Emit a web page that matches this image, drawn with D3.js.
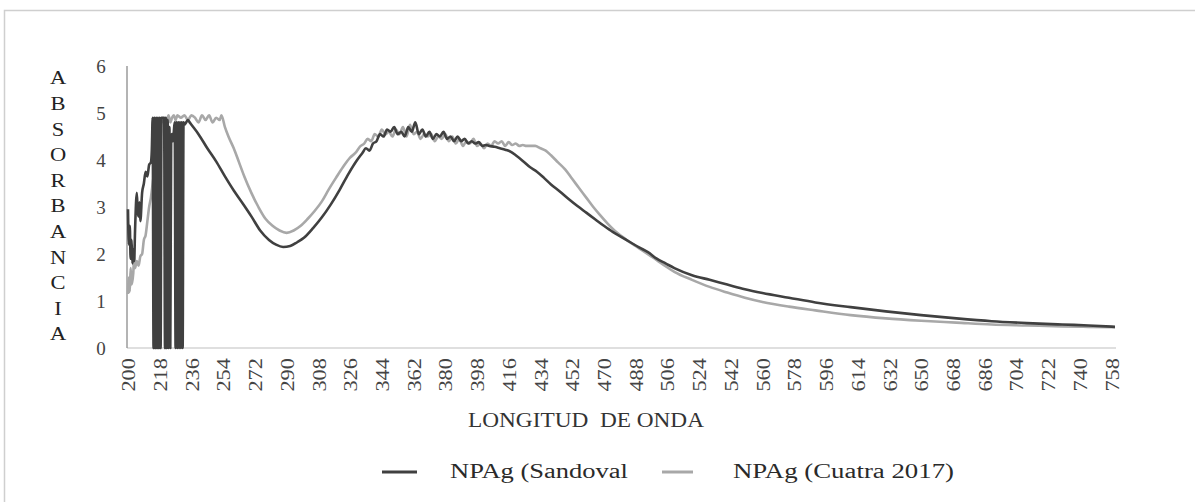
<!DOCTYPE html>
<html>
<head>
<meta charset="utf-8">
<script src="https://cdn.jsdelivr.net/npm/d3@7"></script>
<style>
  html, body { margin: 0; padding: 0; background: #fff; }
  svg { display: block; }
  text { font-family: "Liberation Serif", "Times New Roman", serif; }
</style>
</head>
<body>
<svg id="chart" width="1195" height="502"></svg>
<script>
// ---------- DATA ----------
const xTickLabels = [200,218,236,254,272,290,308,326,344,362,380,398,416,434,452,470,488,506,524,542,560,578,596,614,632,650,668,686,704,722,740,758];
const yTickLabels = [0,1,2,3,4,5,6];
const yTitle = "ABSORBANCIA";
const xTitle = "LONGITUD  DE ONDA";
const seriesNames = ["NPAg (Sandoval", "NPAg (Cuatra 2017)"];

const sandovalWl = [200,200.5,201,201.5,202,202.5,203,203.5,204,205,205.5,206,206.5,207,208,209,210,211,212,213,213.5,
  214,214.5,215,215.5,216,216.5,217,217.5,218,218.5,219,220.5,221,221.5,222,222.5,223,223.5,224,224.5,225,225.5,226,226.5,
  227,227.5,228,228.5,229,229.5,230,230.5,231,231.5,232,233,234,235,236,
  240,245,250,255,260,265,270,275,280,284,288,292,296,300,305,310,315,320,325,330,
  333,335,337,339,341,343,345,347,349,351,353,355,357,359,361,363,365,367,369,371,373,375,377,379,381,383,385,387,389,391,393,395,397,399,401,403,405,408,411,414,417,420,424,428,432,436,440,445,450,455,460,465,470,475,480,485,490,495,500,505,510,520,530,540,550,560,575,590,610,630,650,670,690,710,730,745,760];
const sandovalAbs = [2.95,2.2,2.6,1.9,2.3,1.8,2.1,1.85,2.5,3.3,2.9,2.8,3.1,2.7,3.3,3.5,3.75,3.65,3.9,3.95,4.2,
  4.9,0,4.9,0,4.9,0,4.9,0,4.9,0,4.9,4.9,0,4.9,0,4.85,0,4.7,0,4.5,4.55,4.4,4.6,4.8,
  0,4.8,0,4.8,0,4.8,0,4.8,0,4.8,4.75,4.8,4.85,4.8,4.75,
  4.55,4.25,3.97,3.65,3.35,3.08,2.8,2.5,2.3,2.2,2.15,2.17,2.25,2.35,2.55,2.78,3.05,3.36,3.7,4.0,
  4.15,4.25,4.2,4.35,4.4,4.55,4.5,4.65,4.6,4.7,4.55,4.6,4.5,4.7,4.6,4.8,4.55,4.65,4.5,4.6,4.45,4.55,4.5,4.6,4.45,4.5,4.4,4.5,4.4,4.45,4.35,4.4,4.35,4.38,4.3,4.32,4.3,4.28,4.25,4.22,4.18,4.1,3.98,3.85,3.75,3.62,3.48,3.33,3.17,3.02,2.88,2.74,2.6,2.47,2.36,2.25,2.14,2.04,1.9,1.8,1.7,1.55,1.45,1.35,1.25,1.17,1.07,0.97,0.87,0.78,0.70,0.63,0.57,0.53,0.50,0.48,0.45];

const cuatraWl = [200,200.5,201,201.5,202,203,203.5,204,205,206,207,208,209,210,211,212,213,214,215,216,217,218,219,220,221,222,223,224,225,226,227,228,230,232,234,236,238,240,242,244,246,248,250,252,253,255,257,260,263,266,270,274,278,282,286,290,294,298,302,306,310,314,318,322,326,329,332,
  334,336,338,340,342,344,346,348,350,352,354,356,358,360,362,364,366,368,370,372,374,376,378,380,382,384,386,388,390,392,394,396,398,400,402,404,406,408,410,412,414,416,418,420,422,424,426,428,431,434,437,440,444,448,452,456,460,464,468,472,476,480,484,488,492,496,500,505,510,520,530,540,550,560,575,590,610,630,650,670,690,710,730,745,760];
const cuatraAbs = [1.15,1.5,1.2,1.7,1.35,1.6,1.95,1.7,1.85,1.75,1.95,2.0,2.3,2.4,2.7,3.0,3.2,3.5,3.8,4.2,4.5,4.7,4.85,4.8,4.9,4.85,4.95,4.8,4.9,4.95,4.85,4.95,4.9,4.95,4.85,4.95,4.9,4.8,4.95,4.85,4.95,4.8,4.9,4.85,4.95,4.7,4.5,4.25,3.95,3.65,3.3,3.0,2.75,2.6,2.5,2.45,2.5,2.6,2.75,2.92,3.12,3.38,3.62,3.85,4.05,4.15,4.3,
  4.35,4.45,4.4,4.55,4.5,4.65,4.55,4.6,4.5,4.65,4.55,4.7,4.5,4.75,4.55,4.6,4.45,4.55,4.5,4.55,4.4,4.5,4.45,4.55,4.4,4.5,4.35,4.45,4.3,4.4,4.35,4.45,4.3,4.35,4.25,4.35,4.3,4.4,4.35,4.4,4.3,4.38,4.32,4.35,4.3,4.32,4.3,4.3,4.3,4.25,4.2,4.1,3.95,3.8,3.6,3.4,3.2,3.0,2.82,2.65,2.5,2.38,2.27,2.17,2.07,1.97,1.87,1.74,1.62,1.45,1.3,1.18,1.07,0.98,0.88,0.8,0.7,0.63,0.58,0.54,0.5,0.48,0.46,0.45,0.44];

// ---------- LAYOUT ----------
const svg = d3.select("#chart");
const x = d3.scaleLinear().domain([200, 760]).range([128, 1115]);
const y = d3.scaleLinear().domain([0, 6]).range([348, 66]);

// outer frame
svg.append("rect").attr("x", 4.5).attr("y", 10.5).attr("width", 1300).attr("height", 600)
  .attr("fill", "none").attr("stroke", "#cfcfcf").attr("stroke-width", 1.5);

// x baseline
svg.append("line").attr("x1", 127).attr("x2", 1116).attr("y1", 348).attr("y2", 348)
  .attr("stroke", "#d4d4d4").attr("stroke-width", 1.5);
// y axis line
svg.append("line").attr("x1", 127).attr("x2", 127).attr("y1", 66).attr("y2", 348)
  .attr("stroke", "#8c8c8c").attr("stroke-width", 1.3);

// y tick labels
const yAxis = svg.append("g").attr("transform", "translate(127,0)")
  .call(d3.axisLeft(y).tickValues(yTickLabels).tickSize(0).tickPadding(26).tickFormat(d3.format("d")));
yAxis.select(".domain").remove();
yAxis.selectAll("text").attr("font-family", "Liberation Serif, serif").attr("font-size", 19)
  .attr("fill", "#444").attr("text-anchor", "middle").attr("dx", 0);

// x tick labels (rotated)
const xAxis = svg.append("g").attr("transform", "translate(0,348)")
  .call(d3.axisBottom(x).tickValues(xTickLabels).tickSize(0).tickFormat(d3.format("d")));
xAxis.select(".domain").remove();
xAxis.selectAll("text")
  .attr("font-family", "Liberation Serif, serif").attr("font-size", 19).attr("fill", "#444")
  .attr("text-anchor", "end").attr("y", 0).attr("dy", "0.35em")
  .attr("transform", "translate(0,10) rotate(-90) scale(1.18,1)");

// y title: stacked letters
const letters = yTitle.split("");
const ly = d3.scalePoint().domain(d3.range(letters.length)).range([78, 334]);
svg.append("g").selectAll("text").data(letters).join("text")
  .attr("transform", (d, i) => `translate(58,${ly(i)}) scale(1.25,1)`)
  .attr("text-anchor", "middle").attr("dy", "0.35em")
  .attr("font-size", 18).attr("fill", "#222").text(d => d);

// x title
svg.append("text").attr("x", 468).attr("y", 427).attr("font-size", 21).attr("fill", "#333")
  .attr("textLength", 236).attr("lengthAdjust", "spacingAndGlyphs")
  .attr("xml:space", "preserve").style("white-space", "pre").text(xTitle);

// lines
const line = d3.line().x(d => x(d[0])).y(d => y(d[1])).curve(d3.curveMonotoneX);
const cuatra = cuatraWl.map((w, i) => [w, cuatraAbs[i]]);
const sandoval = sandovalWl.map((w, i) => [w, sandovalAbs[i]]);
const colors = ["#404040", "#a8a8a8"];

svg.append("path").datum(cuatra).attr("d", line).attr("fill", "none")
  .attr("stroke", colors[1]).attr("stroke-width", 2.6).attr("stroke-linejoin", "round");
svg.append("path").datum(sandoval).attr("d", line).attr("fill", "none")
  .attr("stroke", colors[0]).attr("stroke-width", 2.6).attr("stroke-linejoin", "round");

// legend
const legendItems = [
  { name: seriesNames[0], color: colors[0], x1: 382, x2: 417, tx: 450, tw: 178 },
  { name: seriesNames[1], color: colors[1], x1: 662, x2: 693, tx: 733, tw: 221 }
];
const lg = svg.append("g");
legendItems.forEach(it => {
  lg.append("line").attr("x1", it.x1).attr("x2", it.x2).attr("y1", 472).attr("y2", 472)
    .attr("stroke", it.color).attr("stroke-width", 3);
  lg.append("text").attr("x", it.tx).attr("y", 478).attr("font-size", 20).attr("fill", "#2a2a2a")
    .attr("textLength", it.tw).attr("lengthAdjust", "spacingAndGlyphs").text(it.name);
});
</script>
</body>
</html>
